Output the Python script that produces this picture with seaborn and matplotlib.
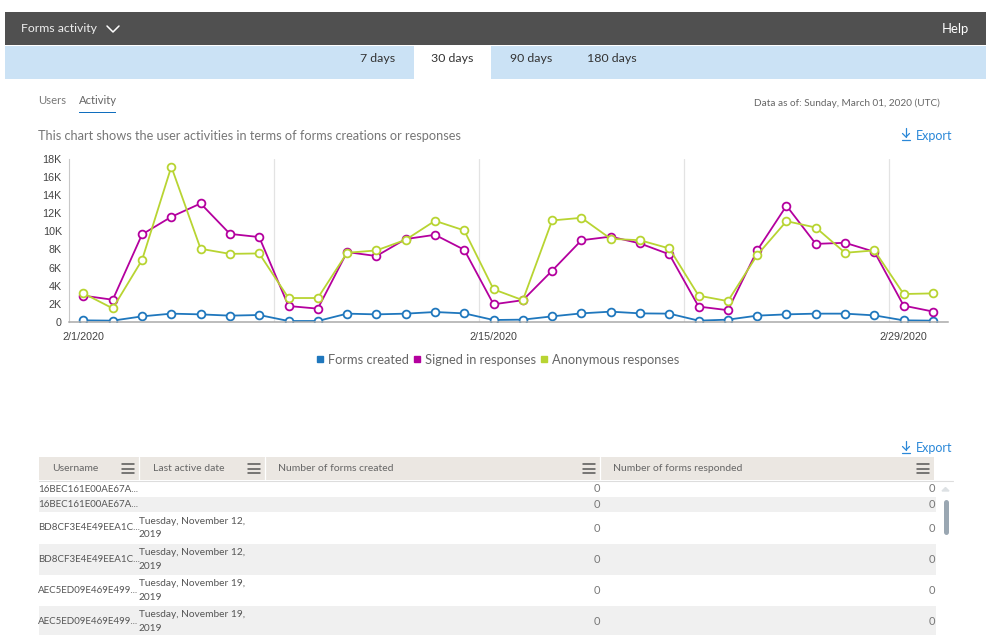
import matplotlib
matplotlib.use("Agg")
import matplotlib.pyplot as plt
from matplotlib.lines import Line2D
from matplotlib.patches import Rectangle
from matplotlib.ticker import FixedLocator
import pandas as pd
import seaborn as sns

sns.set_theme(style="white")
plt.rcParams['font.family'] = ['Lato', 'DejaVu Sans']

days = [d.strftime("%-m/%-d/%Y") for d in pd.date_range("2020-02-01", "2020-03-01")]
forms_created = [180, 150, 620, 920, 840, 700, 770, 110, 110, 920, 840, 920, 1100, 950,
                 220, 260, 620, 950, 1140, 950, 920, 150, 260, 700, 840, 920, 920, 730, 180, 150]
signed_in = [2900, 2450, 9640, 11580, 13050, 9700, 9350, 1760, 1470, 7700, 7260, 9130, 9600, 7950,
             1950, 2400, 5650, 9000, 9400, 8650, 7450, 1700, 1300, 7880, 12800, 8600, 8720, 7730, 1800, 1150]
anonymous = [3150, 1500, 6820, 17100, 8060, 7500, 7550, 2640, 2640, 7620, 7880, 9050, 11140, 10080,
             3600, 2400, 11180, 11470, 9160, 9000, 8100, 2900, 2300, 7370, 11100, 10400, 7620, 7880, 3080, 3150]
series_names = ["Forms created", "Signed in responses", "Anonymous responses"]
series_colors = ["#1f77bd", "#b4009e", "#b8d432"]
y_ticks = [0, 2000, 4000, 6000, 8000, 10000, 12000, 14000, 16000, 18000]
y_labels = ["0", "2K", "4K", "6K", "8K", "10K", "12K", "14K", "16K", "18K"]
x_label_idx = [0, 14, 28]
band_edges = [-0.5, 6.5, 13.5, 20.5, 27.5]

tabs = ["7 days", "30 days", "90 days", "180 days"]
tab_x = [378, 452, 531, 612]
columns = ["Username", "Last active date", "Number of forms created", "Number of forms responded"]
column_x = [52, 153, 278, 613]
menu_x = [128, 254, 589, 923]
separators = [139, 265, 600]
usernames = ["16BEC161E00AE67A...", "16BEC161E00AE67A...", "BD8CF3E4E49EEA1C...",
             "BD8CF3E4E49EEA1C...", "AEC5ED09E469E499...", "AEC5ED09E469E499..."]
last_active = ["", "", "Tuesday, November 12,\n2019", "Tuesday, November 12,\n2019",
               "Tuesday, November 19,\n2019", "Tuesday, November 19,\n2019"]
forms_col = ["0"] * 6
resp_col = ["0"] * 6
row_edges = [481, 497, 512, 544, 575, 606, 635]

W, H = 999, 635
fig = plt.figure(figsize=(W / 100, H / 100), dpi=100, facecolor="white")

ui = fig.add_axes([0, 0, 1, 1], zorder=0)
ui.set_xlim(0, W)
ui.set_ylim(H, 0)
ui.axis("off")
px = 0.72


def rect(x0, y0, x1, y1, color, **kw):
    ui.add_patch(Rectangle((x0, y0), x1 - x0, y1 - y0, facecolor=color, edgecolor="none", **kw))


def label(x, y, s, size, color="#555555", ha="left", va="center", **kw):
    ui.text(x, y, s, fontsize=size * px, color=color, ha=ha, va=va, **kw)


def export(x, y):
    ui.plot([x + 5, x + 5], [y - 7, y + 2], color="#2b88d8", lw=0.9)
    ui.plot([x + 1.5, x + 5, x + 8.5], [y - 1.5, y + 2, y - 1.5], color="#2b88d8", lw=0.9)
    ui.plot([x + 1, x + 9], [y + 5, y + 5], color="#2b88d8", lw=0.9)
    label(x + 15, y + 0.5, "Export", 12.5, color="#2b88d8")


rect(5, 12, 986, 45, "#505050")
rect(5, 46, 986, 79, "#cbe2f5")
rect(414, 46, 491, 79, "white")
label(21, 29, "Forms activity", 12.3, color="#eeeeee")
ui.plot([107, 113, 119], [26, 32, 26], color="white", lw=1.1)
label(969, 29, "Help", 13, color="white", ha="right")
for x, s in zip(tab_x, tabs):
    label(x, 59, s, 12.4, color="#333333", ha="center")

label(38, 101, "Users", 11.3, color="#777777")
label(79, 101, "Activity", 11.2, color="#666666")
rect(79, 111.5, 116, 113, "#106ebe")
label(754, 103, "Data as of: Sunday, March 01, 2020 (UTC)", 10, color="#666666")
label(38, 135.5, "This chart shows the user activities in terms of forms creations or responses",
      12.7, color="#777777")
export(901, 135)
export(901, 448)

rect(39, 457, 934, 480, "#ebe7e2")
ui.plot([39, 953], [480.5, 480.5], color="#dddddd", lw=0.8)
for x in separators:
    ui.plot([x, x], [457, 480], color="white", lw=0.9)
for x, s in zip(column_x, columns):
    label(x, 468.5, s, 10.4, color="#666666")
for x in menu_x:
    for y in (464, 468.5, 473):
        ui.plot([x - 6, x + 6], [y, y], color="#555555", lw=1.1)
for i, (u, d, a, b) in enumerate(zip(usernames, last_active, forms_col, resp_col)):
    y0, y1 = row_edges[i], row_edges[i + 1]
    if i % 2:
        rect(39, y0, 936, y1, "#f0f0f0")
    yc = (y0 + y1) / 2 + (1 if i == 5 else 0)
    label(38, yc, u, 9.8, color="#555555")
    if d:
        label(139, yc, d, 10.1, color="#555555", linespacing=1.65)
    label(600, yc, a, 11, color="#777777", ha="right")
    label(935.5, yc, b, 11, color="#777777", ha="right")
ui.fill([942, 945.5, 949], [491, 487.5, 491], color="#dde1e4")
ui.plot([945.5, 945.5], [502, 532], color="#9aa7b2", lw=3.6, solid_capstyle="round")

left, right, top, bottom = 68.8, 947.6, 158.5, 322
ax = fig.add_axes([left / W, 1 - bottom / H, (right - left) / W, (bottom - top) / H],
                  zorder=2, facecolor="none")
df = pd.DataFrame({"idx": range(len(days)), "Forms created": forms_created,
                   "Signed in responses": signed_in, "Anonymous responses": anonymous})
long = df.melt("idx", var_name="series", value_name="value")
sns.lineplot(data=long, x="idx", y="value", hue="series", hue_order=series_names,
             palette=series_colors, marker="o", markersize=5.6, markerfacecolor="white",
             markeredgewidth=1.3, linewidth=1.3, dashes=False, legend=False, ax=ax)
for line, c in zip(ax.get_lines(), series_colors):
    line.set_markeredgecolor(c)
for e in band_edges[1:]:
    ax.axvline(e, color="#e3e3e3", lw=0.9, zorder=0)
ax.set_xlim(-0.5, 29.5)
ax.set_ylim(0, 18000)
ax.set_xlabel("")
ax.set_ylabel("")
ax.set_yticks(y_ticks, y_labels)
ax.set_xticks(x_label_idx, [days[i] for i in x_label_idx])
ax.xaxis.set_minor_locator(FixedLocator(band_edges))
ax.tick_params(axis="x", which="major", length=0, pad=7.5)
ax.tick_params(axis="x", which="minor", length=3, width=0.8, color="#aaaaaa")
ax.tick_params(axis="y", length=3.5, width=0.8, color="#c8c8c8", pad=1.5)
for t in ax.get_xticklabels() + ax.get_yticklabels():
    t.set_fontfamily("Liberation Sans")
    t.set_fontsize(10.8 * px)
    t.set_color("#444444")
sns.despine(ax=ax, top=True, right=True)
ax.spines["left"].set_color("#c8c8c8")
ax.spines["left"].set_linewidth(0.8)
ax.spines["bottom"].set_color("#aaaaaa")
ax.spines["bottom"].set_linewidth(1.1)

handles = [Line2D([], [], ls="none", marker="s", ms=4.8, color=c) for c in series_colors]
leg = ax.legend(handles, series_names, ncol=3, frameon=False, loc="center",
                bbox_to_anchor=((496.5 - left) / (right - left), 1 - (359.5 - top) / (bottom - top)),
                fontsize=12.9 * px, labelcolor="#666666", handletextpad=0.13, columnspacing=0.13,
                handlelength=1.0, borderpad=0, borderaxespad=0)

fig.savefig("out.png", dpi=100, facecolor="white")
